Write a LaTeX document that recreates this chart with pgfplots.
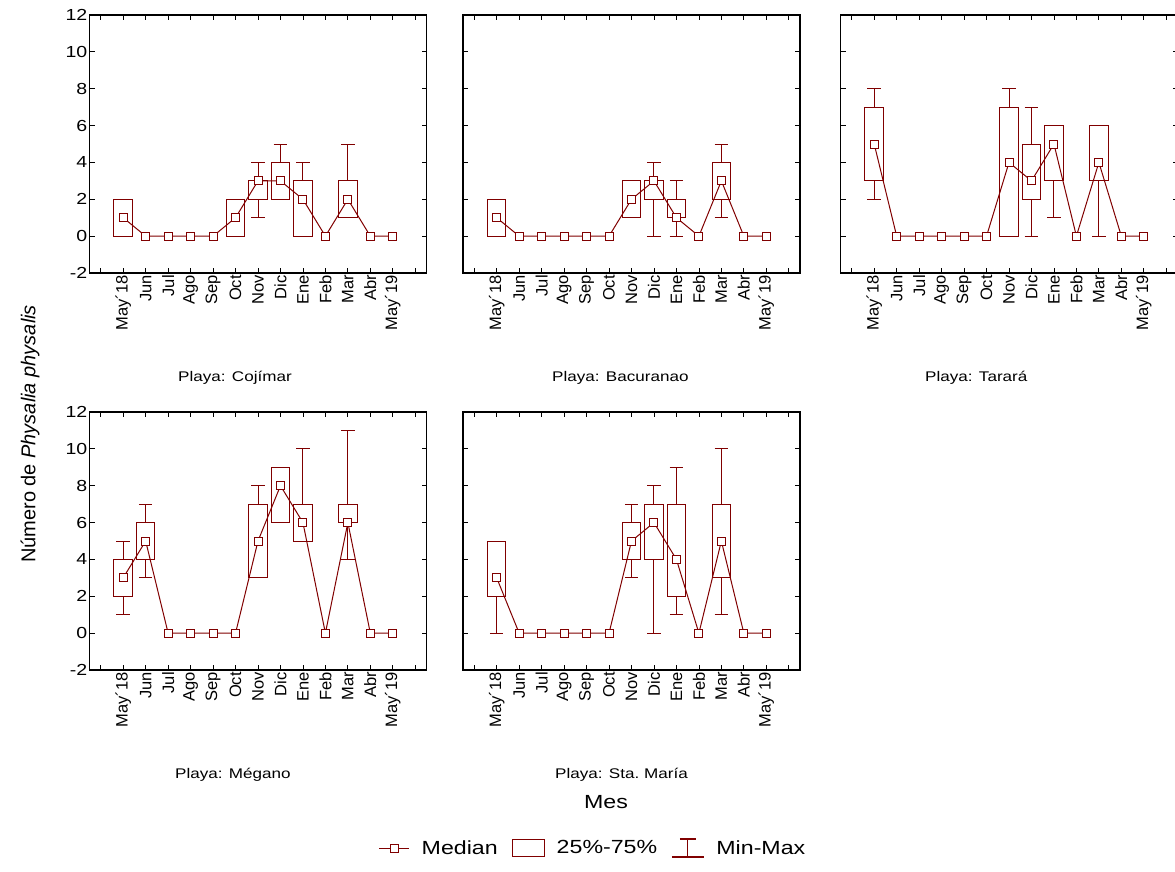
\documentclass[border=0pt]{standalone}
\usepackage{fontspec}
\setmainfont[FakeStretch=1.22]{Liberation Sans}
\newfontfamily\rotfont{Liberation Sans}
\usepackage{pgfplots}
\pgfplotsset{compat=1.18}
\usepgfplotslibrary{statistics}
\definecolor{dred}{RGB}{128,0,0}
\pgfplotsset{
 panel/.style={scale only axis, width=337pt, height=258pt, xmin=-1.5, xmax=13.5, ymin=-2, ymax=12,
   xtick={0,...,12}, xticklabels={May´18,Jun,Jul,Ago,Sep,Oct,Nov,Dic,Ene,Feb,Mar,Abr,May´19},
   extra x ticks={-1,13}, extra x tick labels={},
   ytick={-2,0,...,12}, yticklabels={-2,0,2,4,6,8,10,12},
   tick align=inside, major tick length=5pt, tick style={black, line width=0.8pt},
   axis line style={black, line width=1.1pt},
   xticklabel style={rotate=90, anchor=east, font=\rotfont\fontsize{16.5}{16.5}\selectfont, inner sep=2pt},
   yticklabel style={font=\fontsize{16}{16}\selectfont, inner sep=2pt},
   clip=false},
 noy/.style={yticklabels={}},
 bxs/.style={draw=dred, line width=1pt, solid, boxplot/draw direction=y, boxplot/box extend=0.82, boxplot/whisker extend=0.6, boxplot/draw/median/.code={}},
 med/.style={dred, line width=1pt, mark=square*, mark size=4pt, mark options={fill=white, solid}},
}
\newcommand{\bx}[6]{\addplot[bxs, boxplot prepared={draw position=#1, lower whisker=#2, lower quartile=#3, median=#4, upper quartile=#5, upper whisker=#6}] coordinates {};}
\begin{document}
\begin{tikzpicture}
\path[use as bounding box] (0,0) rectangle (1175pt,-871pt);
% Cojimar
\begin{axis}[panel, at={(89.5pt,-15pt)}, anchor=north west]
\bx{0}{0}{0}{1}{2}{2}
\bx{5}{0}{0}{1}{2}{2}
\bx{6}{1}{2}{3}{3}{4}
\bx{7}{2}{2}{3}{4}{5}
\bx{8}{0}{0}{2}{3}{4}
\bx{10}{1}{1}{2}{3}{5}
\addplot[med] coordinates {(0,1) (1,0) (2,0) (3,0) (4,0) (5,1) (6,3) (7,3) (8,2) (9,0) (10,2) (11,0) (12,0)};
\end{axis}
% Bacuranao
\begin{axis}[panel, noy, at={(463pt,-15pt)}, anchor=north west]
\bx{0}{0}{0}{1}{2}{2}
\bx{6}{1}{1}{2}{3}{3}
\bx{7}{0}{2}{3}{3}{4}
\bx{8}{0}{1}{1}{2}{3}
\bx{10}{1}{2}{3}{4}{5}
\addplot[med] coordinates {(0,1) (1,0) (2,0) (3,0) (4,0) (5,0) (6,2) (7,3) (8,1) (9,0) (10,3) (11,0) (12,0)};
\end{axis}
% Tarara
\begin{axis}[panel, noy, at={(840.5pt,-15pt)}, anchor=north west]
\bx{0}{2}{3}{5}{7}{8}
\bx{6}{0}{0}{4}{7}{8}
\bx{7}{0}{2}{3}{5}{7}
\bx{8}{1}{3}{5}{6}{6}
\bx{10}{0}{3}{4}{6}{6}
\addplot[med] coordinates {(0,5) (1,0) (2,0) (3,0) (4,0) (5,0) (6,4) (7,3) (8,5) (9,0) (10,4) (11,0) (12,0)};
\end{axis}
% Megano
\begin{axis}[panel, at={(89.5pt,-412pt)}, anchor=north west]
\bx{0}{1}{2}{3}{4}{5}
\bx{1}{3}{4}{5}{6}{7}
\bx{6}{3}{3}{5}{7}{8}
\bx{7}{6}{6}{8}{9}{9}
\bx{8}{5}{5}{6}{7}{10}
\bx{10}{4}{6}{6}{7}{11}
\addplot[med] coordinates {(0,3) (1,5) (2,0) (3,0) (4,0) (5,0) (6,5) (7,8) (8,6) (9,0) (10,6) (11,0) (12,0)};
\end{axis}
% Sta Maria
\begin{axis}[panel, noy, at={(463pt,-412pt)}, anchor=north west]
\bx{0}{0}{2}{3}{5}{5}
\bx{6}{3}{4}{5}{6}{7}
\bx{7}{0}{4}{6}{7}{8}
\bx{8}{1}{2}{4}{7}{9}
\bx{10}{1}{3}{5}{7}{10}
\addplot[med] coordinates {(0,3) (1,0) (2,0) (3,0) (4,0) (5,0) (6,5) (7,6) (8,4) (9,0) (10,5) (11,0) (12,0)};
\end{axis}
% titles
\begin{scope}[every node/.style={font=\fontsize{14}{14}\selectfont, anchor=west, inner sep=0pt}]
\node at (178pt,-378pt) {Playa: Cojímar};
\node at (552pt,-378pt) {Playa: Bacuranao};
\node at (925pt,-378pt) {Playa: Tarará};
\node at (175pt,-775pt) {Playa: Mégano};
\node at (555pt,-775pt) {Playa: Sta.\ María};
\end{scope}
\node[rotate=90, font=\rotfont\fontsize{20}{20}\selectfont] at (30pt,-434pt) {Número de \textit{Physalia physalis}};
\node[font=\fontsize{19}{19}\selectfont] at (606pt,-802pt) {Mes};
% legend
\begin{axis}[at={(593pt,-848pt)}, anchor=center, hide axis, scale only axis, width=10pt, height=10pt,
  xmin=0, xmax=1, ymin=0, ymax=1, legend columns=3,
  legend style={at={(0.5,0.5)}, anchor=center, draw=none, fill=none, font=\fontsize{19}{19}\selectfont,
   /tikz/every odd column/.append style={column sep=10pt},
   /tikz/every even column/.append style={column sep=12pt}}]
\addlegendimage{legend image code/.code={\draw[dred, line width=1pt] (0pt,0pt) -- (30pt,0pt); \draw[dred, line width=1pt, fill=white] (11pt,-4pt) rectangle (19pt,4pt);}}
\addlegendentry{Median}
\addlegendimage{legend image code/.code={\draw[dred, line width=1pt] (0pt,-8pt) rectangle (32pt,9pt);}}
\addlegendentry{25\%-75\%}
\addlegendimage{legend image code/.code={\draw[dred, line width=1.2pt] (16pt,-9pt) -- (16pt,9pt); \draw[dred, line width=1.2pt] (8pt,9pt) -- (24pt,9pt); \draw[dred, line width=1.2pt] (0pt,-9pt) -- (32pt,-9pt);}}
\addlegendentry{Min-Max}
\end{axis}
\end{tikzpicture}
\end{document}
